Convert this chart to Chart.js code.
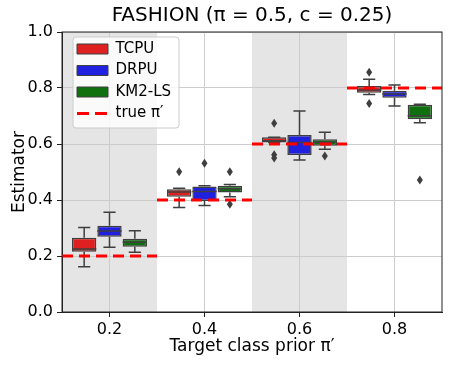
<!DOCTYPE html>
<html lang="en">
<head>
<meta charset="UTF-8">
<title>FASHION estimator boxplots</title>
<script src="https://cdn.jsdelivr.net/npm/chart.js@4.4.6/dist/chart.umd.min.js"></script>
<style>
  html, body { margin: 0; padding: 0; background: #fff; }
</style>
</head>
<body>
<canvas id="chart" width="449" height="366"></canvas>
<script>
const categories = ['0.2', '0.4', '0.6', '0.8'];
const truePrior = [0.2, 0.4, 0.6, 0.8];
const methods = ['TCPU', 'DRPU', 'KM2-LS'];
const fills = ['#df2020', '#2020df', '#107010'];
// [lower whisker, q1, median, q3, upper whisker] for each target prior
const tcpuStats = [[0.162, 0.215, 0.225, 0.265, 0.302], [0.373, 0.412, 0.429, 0.438, 0.442], [0.605, 0.605, 0.612, 0.624, 0.624], [0.777, 0.783, 0.793, 0.807, 0.831]];
const drpuStats = [[0.231, 0.269, 0.289, 0.308, 0.356], [0.380, 0.396, 0.430, 0.448, 0.451], [0.543, 0.561, 0.605, 0.632, 0.718], [0.736, 0.765, 0.779, 0.790, 0.811]];
const km2Stats = [[0.213, 0.233, 0.249, 0.262, 0.290], [0.412, 0.427, 0.440, 0.451, 0.455], [0.581, 0.594, 0.606, 0.617, 0.642], [0.676, 0.688, 0.701, 0.740, 0.742]];
const tcpuOutliers = [[], [0.501], [0.674, 0.562, 0.550], [0.856, 0.745]];
const drpuOutliers = [[], [0.531], [], []];
const km2Outliers = [[], [0.501, 0.385], [0.557], [0.471]];

const allStats = [tcpuStats, drpuStats, km2Stats];
const allOutliers = [tcpuOutliers, drpuOutliers, km2Outliers];
const shaded = [0, 2]; // categories with grey background
const edge = '#3f3f3f';

Chart.defaults.font.family = 'DejaVu Sans';
Chart.defaults.color = '#000';

const extras = {
  id: 'extras',
  afterInit(chart) {
    // legend frame goes between the grid and the legend text
    const lg = chart.legend;
    const draw = lg.draw.bind(lg);
    lg.draw = function (area) {
      const ca = chart.chartArea, ctx = chart.ctx;
      ctx.save();
      ctx.beginPath();
      ctx.roundRect(ca.left + 11, ca.top + 5, 106, 91, 3);
      ctx.fillStyle = 'rgba(255,255,255,0.8)';
      ctx.fill();
      ctx.strokeStyle = '#cccccc';
      ctx.lineWidth = 1;
      ctx.stroke();
      ctx.restore();
      draw(area);
    };
  },
  afterLayout(chart) {
    chart.legend.left = chart.chartArea.left + 8.5;
    chart.legend.top = chart.chartArea.top + 3;
  },
  beforeDraw(chart) {
    const {ctx, chartArea: ca, scales: {x}} = chart;
    ctx.save();
    ctx.fillStyle = '#e5e5e5';
    shaded.forEach(i => {
      const l = x.getPixelForValue(i - 0.5), r = x.getPixelForValue(i + 0.5);
      ctx.fillRect(l, ca.top, r - l, ca.bottom - ca.top);
    });
    ctx.restore();
  },
  afterDatasetsDraw(chart) {
    const {ctx, scales: {x, y}} = chart;
    const py = v => y.getPixelForValue(v);
    ctx.save();
    allStats.forEach((st, d) => {
      chart.getDatasetMeta(d).data.forEach((bar, i) => {
        const s = st[i], cx = bar.x, half = bar.width / 2;
        ctx.strokeStyle = edge;
        ctx.lineWidth = 1.5;
        ctx.beginPath();
        ctx.moveTo(cx, py(s[1])); ctx.lineTo(cx, py(s[0]));
        ctx.moveTo(cx, py(s[3])); ctx.lineTo(cx, py(s[4]));
        ctx.moveTo(cx - half / 2, py(s[0])); ctx.lineTo(cx + half / 2, py(s[0]));
        ctx.moveTo(cx - half / 2, py(s[4])); ctx.lineTo(cx + half / 2, py(s[4]));
        ctx.moveTo(cx - half, py(s[2])); ctx.lineTo(cx + half, py(s[2]));
        ctx.stroke();
        ctx.fillStyle = edge;
        allOutliers[d][i].forEach(v => {
          const oy = py(v);
          ctx.beginPath();
          ctx.moveTo(cx, oy - 4.5);
          ctx.lineTo(cx + 3, oy);
          ctx.lineTo(cx, oy + 4.5);
          ctx.lineTo(cx - 3, oy);
          ctx.closePath();
          ctx.fill();
        });
      });
    });
    // true prior reference lines
    ctx.strokeStyle = '#ff0000';
    ctx.lineWidth = 3;
    ctx.setLineDash([11, 6]);
    truePrior.forEach((v, i) => {
      ctx.beginPath();
      ctx.moveTo(x.getPixelForValue(i - 0.5), py(v));
      ctx.lineTo(x.getPixelForValue(i + 0.5), py(v));
      ctx.stroke();
    });
    ctx.restore();
  },
  afterDraw(chart) {
    const {ctx, chartArea: ca} = chart;
    ctx.save();
    ctx.strokeStyle = '#222';
    ctx.lineWidth = 1;
    ctx.strokeRect(ca.left, ca.top, ca.right - ca.left, ca.bottom - ca.top);
    ctx.restore();
  }
};

new Chart(document.getElementById('chart'), {
  type: 'bar',
  data: {
    labels: categories,
    datasets: methods.map((m, d) => ({
      label: m,
      data: allStats[d].map(s => [s[1], s[3]]),
      backgroundColor: fills[d],
      borderColor: edge,
      borderWidth: 1.5,
      borderSkipped: false,
      categoryPercentage: 0.8,
      barPercentage: 0.96
    }))
  },
  plugins: [extras],
  options: {
    responsive: false,
    animation: false,
    layout: { padding: { left: 0, right: 7, top: 0, bottom: 0 } },
    plugins: {
      tooltip: { enabled: false },
      title: {
        display: true,
        text: 'FASHION (π = 0.5, c = 0.25)',
        fullSize: false,
        font: { size: 20, weight: 'normal' },
        color: '#000',
        padding: { top: 4, bottom: 4 }
      },
      legend: {
        position: 'chartArea',
        align: 'start',
        labels: {
          usePointStyle: true,
          pointStyleWidth: 31,
          boxHeight: 10,
          padding: 6.5,
          font: { size: 15 },
          color: '#000',
          generateLabels: () => [
            ...methods.map((m, d) => ({
              text: m, fillStyle: fills[d], strokeStyle: edge, lineWidth: 1,
              pointStyle: 'rect', hidden: false, datasetIndex: d
            })),
            {
              text: 'true π′', fillStyle: '#ff0000', strokeStyle: '#ff0000', lineWidth: 3,
              lineDash: [12, 6], pointStyle: 'line', hidden: false
            }
          ]
        }
      }
    },
    scales: {
      x: {
        offset: true,
        grid: { offset: false, color: '#cccccc', tickColor: '#222', tickLength: 5 },
        border: { color: '#222' },
        ticks: { font: { size: 16 }, color: '#000', padding: 3 },
        title: { display: true, text: 'Target class prior π′', font: { size: 17 }, color: '#000', padding: { top: 0, bottom: 9 } },
        afterFit: s => { s.height = 54; }
      },
      y: {
        min: 0,
        max: 1,
        grid: { color: '#cccccc', tickColor: '#222', tickLength: 5 },
        border: { color: '#222' },
        ticks: { stepSize: 0.2, font: { size: 16 }, color: '#000', padding: 4, callback: v => v.toFixed(1) },
        title: { display: true, text: 'Estimator', font: { size: 17 }, color: '#000', padding: { top: 9, bottom: 0 } },
        afterFit: s => { s.width = 62; }
      }
    }
  }
});
</script>
</body>
</html>
